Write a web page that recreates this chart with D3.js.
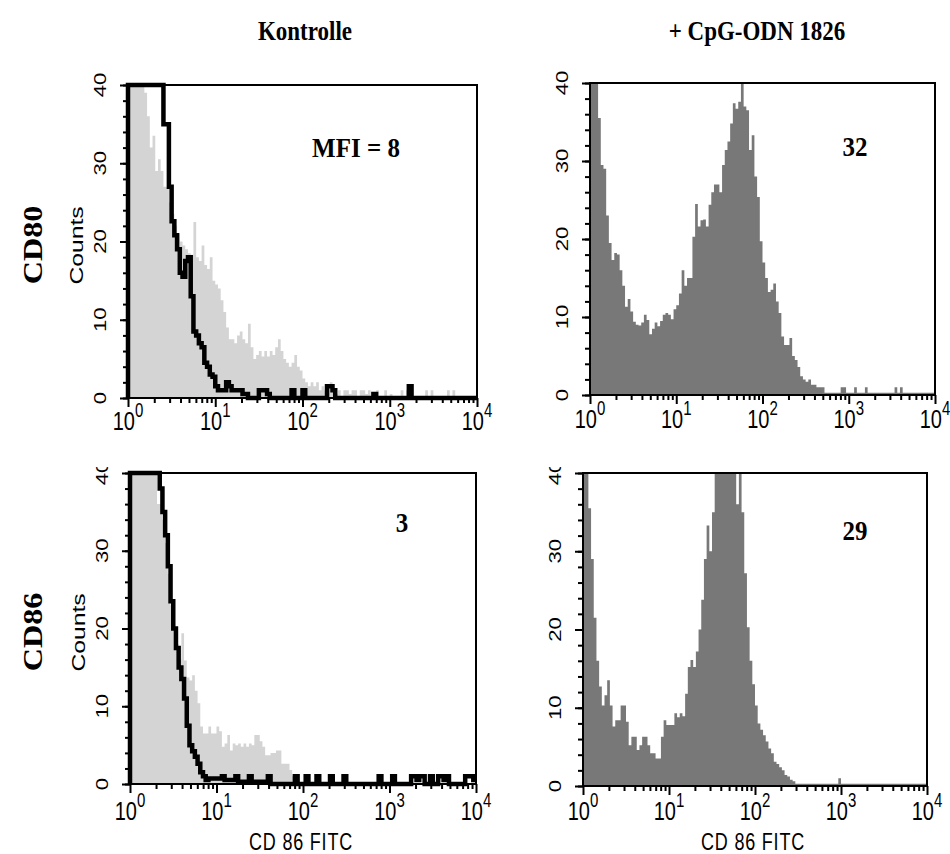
<!DOCTYPE html>
<html>
<head>
<meta charset="utf-8">
<script src="https://cdn.jsdelivr.net/npm/d3@7"></script>
<style>
  html, body { margin: 0; padding: 0; background: #fff; }
  svg { display: block; }
</style>
</head>
<body>
<svg id="chart" width="950" height="854"></svg>
<script>
// FACS histograms, 128 channels over 4 log decades (10^0 .. 10^4), counts
const isotypeCd80 = [
  40, 40, 40, 40, 40, 40, 40, 40, 40, 40, 40, 40, 40, 35, 35, 27,
  22.6, 20.8, 19, 16, 15.5, 17.5, 18, 13, 8.5, 8, 7, 6.5, 4.5, 4, 3, 2.7,
  1.5, 1, 1, 1, 2, 1.5, 1, 1, 1, 1, 0.5, 0.5, 0, 0, 0, 0,
  1, 1, 1, 0.5, 0, 0, 0, 0, 0, 0, 0, 0, 1, 0, 0, 0,
  1, 0, 0, 0, 0, 0, 0, 0, 0, 1.5, 1.5, 1, 0, 0, 0, 0,
  0, 0, 0, 0, 0, 0, 0, 0, 0, 0, 0.5, 0, 0, 0, 0, 0,
  0, 0, 0, 0, 0, 0, 0, 1.5, 0, 0, 0, 0, 0, 0, 0, 0,
  0, 0, 0, 0, 0, 0, 0, 0, 0, 0, 0, 0, 0, 0, 0, 0
];
const controlCd80 = [
  40, 40, 40, 40, 40, 40, 39, 36, 32, 33.5, 29, 30.5, 29, 27, 27, 25,
  23.5, 22, 21, 20, 19.5, 19, 18.5, 18.3, 22.5, 18, 17.5, 19.5, 17, 16.5, 18, 15,
  14.5, 14, 12.5, 11, 9, 7.5, 7.5, 7, 8, 8.5, 7.5, 7, 9.5, 6.5, 5, 5.5,
  6, 5.3, 6, 5.3, 6, 5.5, 6.5, 7.5, 6, 5, 4.5, 4, 4.5, 5.5, 4, 3.5,
  2.5, 2, 1.5, 2, 1.5, 2, 1, 1.5, 1, 1.5, 2, 1, 0.5, 1, 0, 1,
  1, 0.5, 1, 1, 0, 1, 1, 0.5, 1, 0, 0, 1, 0, 0, 1, 0,
  0.5, 0, 0, 0, 1, 0, 1, 0, 0, 0, 0, 0, 0, 1, 0, 1,
  0, 0, 0, 0, 0, 1, 0, 1, 0, 0, 0, 0, 0, 0, 0, 0
];
const cpgCd80 = [
  48, 44, 41, 35.5, 29.5, 29, 23, 19.5, 17.3, 18.2, 18, 16, 14, 11.3, 12.3, 10.7,
  9.4, 9, 8.9, 9.3, 10.3, 9.6, 7.8, 8.5, 9.3, 8.8, 9.5, 10.3, 10.5, 10.3, 9.7, 11,
  11.5, 13, 16, 14, 15, 15, 20.3, 24.5, 21.6, 22.4, 22.5, 21.6, 24.4, 26, 27, 27,
  26, 29.5, 31.4, 32.5, 34.8, 37.4, 36.7, 37.6, 42, 37, 36.5, 31.4, 33.3, 28, 25.4, 19.7,
  17, 15, 13.2, 13.5, 14.3, 12, 10.5, 7.5, 6.4, 6.4, 7.3, 5, 4.5, 3.6, 2.4, 2,
  1.7, 2, 1.3, 1.3, 1, 1, 1, 0.3, 0.3, 0.3, 0.3, 0.3, 0.3, 1, 1, 0.3,
  0.3, 0.3, 1, 0.3, 0.3, 0.3, 1, 0.3, 0.3, 0.3, 0.3, 0.3, 0.3, 0.3, 0.3, 0.3,
  0.3, 1, 0.3, 1, 0.3, 0.3, 0.3, 0.3, 0.3, 0.3, 0.3, 0.3, 0.3, 0.3, 0.3, 0.3
];
const isotypeCd86 = [
  40, 40, 40, 40, 40, 40, 40, 40, 40, 40, 40, 38, 35, 32, 28, 23.5,
  20, 17.5, 15, 13.5, 11, 7.5, 5, 4.2, 3.5, 2.6, 1.5, 1, 0.5, 0.7, 0.7, 0.7,
  0.7, 0.7, 1, 0.5, 0.5, 0.5, 0.5, 1, 0.3, 0.3, 0.3, 0.3, 1, 0.3, 0.3, 0.3,
  0.3, 0.3, 0.3, 1, 0, 0, 0, 0, 0, 0, 0, 0, 0, 1, 0, 0,
  0, 1, 0, 0, 0, 1, 0, 0, 0, 0, 1, 0, 0, 0, 0, 1,
  0, 0, 0, 0, 0, 0, 0, 0, 0, 0, 0, 0, 1, 0, 0, 0,
  0, 1, 0, 0, 0, 0, 0, 0, 1, 1, 0.5, 1, 1, 0, 0, 1,
  0, 0, 1, 1, 0.5, 1, 0, 0, 0, 0, 0, 0, 1, 1, 1, 0.5
];
const controlCd86 = [
  40, 40, 40, 40, 40, 40, 40, 40, 40, 40, 36, 36, 34, 31, 27, 23,
  20, 18, 16, 19.4, 15.9, 13.7, 13.3, 14, 12, 10.4, 7.4, 6.5, 6.5, 7.4, 6.5, 6.5,
  7.4, 6.8, 4.8, 5.2, 6.3, 4.3, 5.2, 5, 5.2, 4.8, 5.2, 4.8, 5.2, 5, 6.3, 6.3,
  5.5, 4.8, 3.7, 3.7, 4, 4, 4.3, 4.3, 2.6, 2.6, 2.6, 1.8, 1, 0.5, 0, 0,
  0, 0, 0, 0, 0, 0, 0, 0, 0, 0, 0, 0, 0, 0, 0, 0,
  0, 0, 0, 0, 0, 0, 0, 0, 0, 0, 0, 0, 0, 0, 0, 0,
  0, 0, 0, 0, 0, 0, 0, 0, 0, 0, 0, 0, 0, 0, 0, 0,
  0, 0, 0, 0, 0, 0, 0, 0, 0, 0, 0, 0, 0, 0, 0, 0
];
const cpgCd86 = [
  42, 42, 35.5, 29, 21.5, 16, 12.7, 10.3, 11.6, 13.5, 10.3, 7.6, 8.4, 8.4, 10.3, 10.3,
  8.2, 5.2, 6.3, 6.3, 4.6, 5.2, 6.3, 6.3, 5.2, 4.2, 4.2, 3.5, 3.5, 6.3, 8.4, 7.8,
  7.8, 7.8, 9.3, 8.8, 9.3, 8.9, 11.8, 15.2, 16.1, 15.2, 17.2, 20, 23.8, 29, 33.3, 30,
  35, 45, 45, 45, 45, 45, 45, 45, 45, 36, 42, 35, 27.2, 20.3, 16, 13,
  10.3, 8, 7.2, 6.5, 5.7, 4.8, 4.2, 3.1, 2.8, 2.4, 2, 1.4, 1.2, 0.8, 0.6, 0.3,
  0.3, 0.3, 0.3, 0.3, 0.3, 0.3, 0.3, 0.3, 0.3, 0.3, 0.3, 0.3, 0.3, 0.3, 0.3, 1,
  0.3, 0.3, 0.3, 0.3, 0.3, 0.3, 0.3, 0.3, 0.3, 0.3, 0.3, 0.3, 0.3, 0.3, 0.3, 0.3,
  0.3, 0.3, 0.3, 0.3, 0.3, 0.3, 0.3, 0.3, 0.3, 0.3, 0.3, 0.3, 0.3, 0.3, 0.3, 0.3
];

const columnTitles = ['Kontrolle', '+ CpG-ODN 1826'];
const rowTitles = ['CD80', 'CD86'];
const mfiLabels = ['MFI = 8', '32', '3', '29'];
const yMajorTicks = [0, 10, 20, 30, 40];
const yMinorTicks = d3.range(0, 41, 2);
const xDecades = [0, 1, 2, 3, 4];
const xAxisTitle = 'CD 86 FITC';
const yAxisTitle = 'Counts';

const CHANNELS = 128;
const LIGHT = '#d4d4d4';
const DARK = '#787878';
const SANS = '"Liberation Sans", Arial, Helvetica, sans-serif';
const SERIF = '"Liberation Serif", "Times New Roman", serif';
const SANS_STRETCH = 1.3;   // source picture is vertically stretched
const SERIF_STRETCH = 1.12;

const panels = [
  { left: 128, right: 477, top: 85, bottom: 398, fill: LIGHT, hist: controlCd80, line: isotypeCd80,
    counts: true, xTitle: false, mfi: mfiLabels[0], mfiX: 356, mfiY: 157, tickBase: 32, labelClip: null },
  { left: 590, right: 935, top: 83, bottom: 395, fill: DARK, hist: cpgCd80, line: null,
    counts: false, xTitle: false, mfi: mfiLabels[1], mfiX: 855, mfiY: 156, tickBase: 33, labelClip: null },
  { left: 130, right: 476, top: 473, bottom: 784, fill: LIGHT, hist: controlCd86, line: isotypeCd86,
    counts: true, xTitle: true, mfi: mfiLabels[2], mfiX: 402, mfiY: 532, tickBase: 36, labelClip: 467 },
  { left: 583, right: 927, top: 473, bottom: 786, fill: DARK, hist: cpgCd86, line: null,
    counts: false, xTitle: true, mfi: mfiLabels[3], mfiX: 855, mfiY: 540, tickBase: 34, labelClip: 467 }
];

const svg = d3.select('#chart');
const defs = svg.append('defs');

function channelPoints(values) {
  const pts = values.map((v, i) => ({ x: Math.pow(10, 4 * i / CHANNELS), v }));
  pts.push({ x: 1e4, v: values[values.length - 1] });
  return pts;
}

function stretchedText(parent, x, y, s, rotate) {
  return parent.append('text')
    .attr('transform', `translate(${x},${y}) scale(1,${s})` + (rotate ? ' rotate(-90)' : ''));
}

panels.forEach((p, pi) => {
  const g = svg.append('g');

  const x = d3.scaleLog().domain([1, 1e4]).range([p.left, p.right]);
  const y = d3.scaleLinear().domain([0, 40]).range([p.bottom, p.top]).clamp(true);

  // histogram fill
  const area = d3.area()
    .curve(d3.curveStepAfter)
    .x(d => x(d.x))
    .y0(y(0))
    .y1(d => y(d.v));

  g.append('path')
    .datum(channelPoints(p.hist))
    .attr('fill', p.fill)
    .attr('d', area);

  // isotype outline
  if (p.line) {
    const line = d3.line()
      .curve(d3.curveStepAfter)
      .x(d => x(d.x))
      .y(d => y(d.v));
    const pts = [{ x: 1, v: 0 }].concat(channelPoints(p.line));
    g.append('path')
      .datum(pts)
      .attr('fill', 'none')
      .attr('stroke', '#000')
      .attr('stroke-width', 4.5)
      .attr('stroke-linejoin', 'miter')
      .attr('d', line);
  }

  // frame
  g.append('rect')
    .attr('x', p.left)
    .attr('y', p.top)
    .attr('width', p.right - p.left)
    .attr('height', p.bottom - p.top)
    .attr('fill', 'none')
    .attr('stroke', '#000')
    .attr('stroke-width', 2);

  // y ticks
  g.append('g')
    .attr('transform', `translate(${p.left},0)`)
    .call(d3.axisLeft(y).tickValues(yMinorTicks).tickSize(5).tickFormat(''))
    .call(a => a.select('.domain').remove())
    .selectAll('line').attr('stroke-width', 2);
  g.append('g')
    .attr('transform', `translate(${p.left},0)`)
    .call(d3.axisLeft(y).tickValues(yMajorTicks).tickSize(8).tickFormat(''))
    .call(a => a.select('.domain').remove())
    .selectAll('line').attr('stroke-width', 2);

  // x ticks
  const minorX = [];
  xDecades.slice(0, -1).forEach(k => {
    for (let m = 2; m <= 9; m++) minorX.push(m * Math.pow(10, k));
  });
  g.append('g')
    .attr('transform', `translate(0,${p.bottom})`)
    .call(d3.axisBottom(x).tickValues(minorX).tickSize(5).tickFormat(''))
    .call(a => a.select('.domain').remove())
    .selectAll('line').attr('stroke-width', 2);
  g.append('g')
    .attr('transform', `translate(0,${p.bottom})`)
    .call(d3.axisBottom(x).tickValues(xDecades.map(k => Math.pow(10, k))).tickSize(9).tickFormat(''))
    .call(a => a.select('.domain').remove())
    .selectAll('line').attr('stroke-width', 2);

  // y tick labels (rotated)
  const yl = g.append('g');
  if (p.labelClip !== null) {
    const id = 'clip' + pi;
    defs.append('clipPath').attr('id', id)
      .append('rect').attr('x', 0).attr('y', p.labelClip).attr('width', 950).attr('height', 854);
    yl.attr('clip-path', `url(#${id})`);
  }
  yMajorTicks.forEach(v => {
    stretchedText(yl, p.left - 22, y(v), SANS_STRETCH, true)
      .attr('text-anchor', 'middle')
      .attr('font-family', SANS)
      .attr('font-size', 17)
      .text(v);
  });

  // x tick labels 10^k
  xDecades.forEach(k => {
    const t = stretchedText(g, x(Math.pow(10, k)), p.bottom + p.tickBase, SANS_STRETCH, false)
      .attr('text-anchor', 'middle')
      .attr('font-family', SANS)
      .attr('font-size', 20);
    t.append('tspan').text('10');
    t.append('tspan').attr('dy', -10).attr('font-size', 15).text(k);
  });

  if (p.counts) {
    stretchedText(g, p.left - 45, (p.top + p.bottom) / 2 + 4, SANS_STRETCH, true)
      .attr('text-anchor', 'middle')
      .attr('font-family', SANS)
      .attr('font-size', 19)
      .text(yAxisTitle);
  }

  if (p.xTitle) {
    stretchedText(g, (p.left + p.right) / 2 - 2, 850, SANS_STRETCH, false)
      .attr('text-anchor', 'middle')
      .attr('font-family', SANS)
      .attr('font-size', 18)
      .attr('letter-spacing', 0.8)
      .text(xAxisTitle);
  }

  stretchedText(g, p.mfiX, p.mfiY, SERIF_STRETCH, false)
    .attr('text-anchor', 'middle')
    .attr('font-family', SERIF)
    .attr('font-weight', 'bold')
    .attr('font-size', 25)
    .text(p.mfi);
});

// column titles
[305, 757].forEach((cx, i) => {
  stretchedText(svg, cx, 40, 1.2, false)
    .attr('text-anchor', 'middle')
    .attr('font-family', SERIF)
    .attr('font-weight', 'bold')
    .attr('font-size', 23)
    .text(columnTitles[i]);
});

// row titles
[245, 632].forEach((cy, i) => {
  stretchedText(svg, 42, cy, 1.15, true)
    .attr('text-anchor', 'middle')
    .attr('font-family', SERIF)
    .attr('font-weight', 'bold')
    .attr('font-size', 28)
    .text(rowTitles[i]);
});
</script>
</body>
</html>
